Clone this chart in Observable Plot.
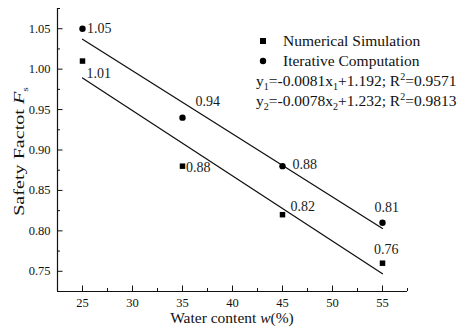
<!DOCTYPE html>
<html><head><meta charset="utf-8">
<script src="https://cdn.jsdelivr.net/npm/d3@7"></script>
<script src="https://cdn.jsdelivr.net/npm/@observablehq/plot@0.6"></script>
<style>
body{margin:0;background:#fff}
svg{font-family:"Liberation Serif","Times New Roman",serif}
</style>
</head><body><div id="chart"></div>
<script>
// ---- data ----
const waterContent = [25, 35, 45, 55];
const numericalSimulation = [1.01, 0.88, 0.82, 0.76];
const iterativeComputation = [1.05, 0.94, 0.88, 0.81];
const fitX = [25, 55];
const fitNumerical = [0.989, 0.747];
const fitIterative = [1.037, 0.803];
const xTicks = [25, 30, 35, 40, 45, 50, 55];
const xMinorTicks = [27.5, 32.5, 37.5, 42.5, 47.5, 52.5, 57.5];
const yTicks = [0.75, 0.80, 0.85, 0.90, 0.95, 1.00, 1.05];
const yMinorTicks = [0.775, 0.825, 0.875, 0.925, 0.975, 1.025, 1.075];
const seriesNames = ["Numerical Simulation", "Iterative Computation"];
const xLabel = ["Water content ", "w", "(%)"];
const yLabel = ["Safety Factot ", "F", "s"];
const equations = [
  [["y"], ["1", "sub"], ["=-0.0081x"], ["1", "sub"], ["+1.192; R"], ["2", "sup"], ["=0.9571"]],
  [["y"], ["2", "sub"], ["=-0.0078x"], ["2", "sub"], ["+1.232; R"], ["2", "sup"], ["=0.9813"]]
];

// ---- tables ----
const sim = waterContent.map((x, i) => ({x, y: numericalSimulation[i]}));
const itc = waterContent.map((x, i) => ({x, y: iterativeComputation[i]}));
const fitSim = fitX.map((x, i) => ({x, y: fitNumerical[i]}));
const fitItc = fitX.map((x, i) => ({x, y: fitIterative[i]}));

// label offsets (style)
const simOffsets = [[4, 12], [3.5, 1], [8, -8], [-8.5, -14]];
const itcOffsets = [[4.5, 0], [13, -16], [10, -2], [-8, -15]];

const fmt = d3.format(".2f");
const labelMarks = [];
sim.forEach((d, i) => labelMarks.push(Plot.text([d], {x: "x", y: "y", text: d => fmt(d.y), dx: simOffsets[i][0], dy: simOffsets[i][1], textAnchor: "start", fontSize: 14, fill: "#1a1a1a"})));
itc.forEach((d, i) => labelMarks.push(Plot.text([d], {x: "x", y: "y", text: d => fmt(d.y), dx: itcOffsets[i][0], dy: itcOffsets[i][1], textAnchor: "start", fontSize: 14, fill: "#1a1a1a"})));

const chart = Plot.plot({
  width: 461, height: 328,
  marginLeft: 57, marginRight: 54, marginTop: 8, marginBottom: 37,
  style: {fontFamily: "'Liberation Serif', 'Times New Roman', serif", fontSize: "12.5px", color: "#111", background: "#fff"},
  x: {domain: [22.5, 57.5]},
  y: {domain: [0.725, 1.075]},
  marks: [
    Plot.axisX({ticks: xTicks, tickSize: -5.5, tickPadding: 12.5, label: null, fontSize: 12.5}),
    Plot.axisX({ticks: xMinorTicks, tickSize: -3, tickFormat: () => "", label: null}),
    Plot.axisY({ticks: yTicks, tickSize: -5.5, tickPadding: 12.5, tickFormat: fmt, label: null, fontSize: 12.5}),
    Plot.axisY({ticks: yMinorTicks, tickSize: -3, tickFormat: () => "", label: null}),
    Plot.ruleX([22.5], {stroke: "#111", strokeWidth: 1.2}),
    Plot.ruleY([0.725], {stroke: "#111", strokeWidth: 1.2}),
    Plot.line(fitItc, {x: "x", y: "y", stroke: "#111", strokeWidth: 1.3}),
    Plot.line(fitSim, {x: "x", y: "y", stroke: "#111", strokeWidth: 1.3}),
    Plot.dot(sim, {x: "x", y: "y", symbol: "square", fill: "#000", r: 3.1}),
    Plot.dot(itc, {x: "x", y: "y", symbol: "circle", fill: "#000", r: 3.2}),
    ...labelMarks
  ]
});
document.getElementById("chart").appendChild(chart);

// ---- annotations ----
const svg = d3.select(chart);
const FS = 15.5;
// x label
const xl = svg.append("text").attr("x", 232).attr("y", 323).attr("text-anchor", "middle")
  .attr("font-size", FS).attr("fill", "#111");
xl.append("tspan").text(xLabel[0]);
xl.append("tspan").attr("font-style", "italic").text(xLabel[1]);
xl.append("tspan").text(xLabel[2]);
// y label
const yl = svg.append("text").attr("transform", "translate(24,151.5) rotate(-90) scale(1.3,1)")
  .attr("text-anchor", "middle").attr("font-size", FS).attr("fill", "#111");
yl.append("tspan").text(yLabel[0]);
yl.append("tspan").attr("font-style", "italic").text(yLabel[1]);
yl.append("tspan").attr("font-size", 9).attr("dy", 4).text(yLabel[2]);

// legend
svg.append("rect").attr("x", 260).attr("y", 38).attr("width", 6).attr("height", 6).attr("fill", "#000");
svg.append("circle").attr("cx", 263).attr("cy", 61).attr("r", 3.2).attr("fill", "#000");
svg.append("text").attr("x", 283).attr("y", 46).attr("text-anchor", "start").attr("font-size", FS).attr("fill", "#111").text(seriesNames[0]);
svg.append("text").attr("x", 283).attr("y", 66).attr("text-anchor", "start").attr("font-size", FS).attr("fill", "#111").text(seriesNames[1]);

equations.forEach((parts, k) => {
  const t = svg.append("text").attr("x", 256).attr("y", 86 + 20 * k).attr("text-anchor", "start")
    .attr("font-size", FS).attr("fill", "#111");
  let shift = 0;
  parts.forEach(([s, kind]) => {
    const target = kind === "sub" ? 4 : kind === "sup" ? -6 : 0;
    const ts = t.append("tspan").attr("dy", target - shift).text(s);
    if (kind) ts.attr("font-size", 10);
    shift = target;
  });
});
</script>
</body></html>
